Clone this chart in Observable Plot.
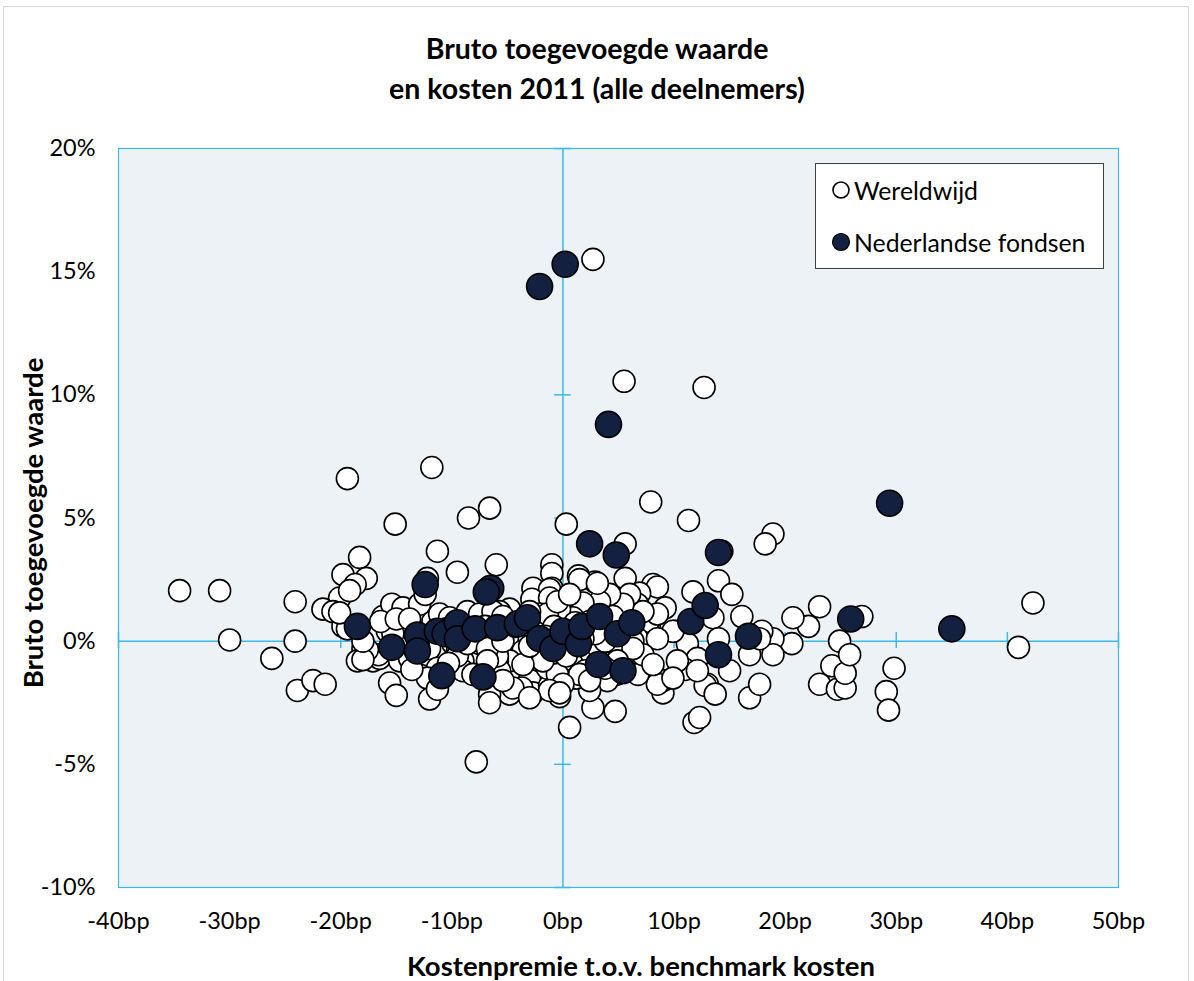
<!DOCTYPE html>
<html><head><meta charset="utf-8">
<script src="https://cdn.jsdelivr.net/npm/d3@7"></script>
<script src="https://cdn.jsdelivr.net/npm/@observablehq/plot@0.6"></script>
<style>
body{margin:0;background:#fff;font-family:Lato,"Open Sans",sans-serif;}
#wrap{position:relative;width:1194px;height:981px;overflow:hidden;}
#border{position:absolute;left:3px;top:6px;width:1186px;height:1000px;border:1px solid #d9d9d9;box-sizing:border-box;}
#title{position:absolute;left:0;top:0;width:1194px;text-align:center;font-weight:bold;font-size:28.5px;line-height:40px;padding-top:28px;box-sizing:border-box;color:#000}
#chart{position:absolute;left:0;top:120px;}
#ytitle{position:absolute;left:32px;top:523px;transform:translate(-50%,-50%) rotate(-90deg);white-space:nowrap;font-weight:bold;font-size:27.5px;}
#xtitle{position:absolute;left:641px;top:965px;transform:translate(-50%,-50%);white-space:nowrap;font-weight:bold;font-size:27.5px;}
#legend{position:absolute;left:815px;top:163px;width:289px;height:106px;background:#fff;border:1px solid #404040;box-sizing:border-box;font-size:24.8px;}
.li{position:absolute;left:15px;display:flex;align-items:center;height:30px;}
.li svg{margin-right:3px;}
</style>
</head><body>
<div id="wrap">
<div id="border"></div>
<div id="title">Bruto toegevoegde waarde<br>en kosten 2011 (alle deelnemers)</div>
<div id="chart"></div>
<div id="ytitle">Bruto toegevoegde waarde</div>
<div id="xtitle">Kostenpremie t.o.v. benchmark kosten</div>
<div id="legend">
  <div class="li" style="top:11px"><svg width="20" height="20"><circle cx="10" cy="10" r="8" fill="#fff" stroke="#000" stroke-width="1.6"/></svg>Wereldwijd</div>
  <div class="li" style="top:63px"><svg width="20" height="20"><circle cx="10" cy="10" r="8.5" fill="#14203F" stroke="#000" stroke-width="1.2"/></svg>Nederlandse fondsen</div>
</div>
</div>
<script>
const xTicks = [-40,-30,-20,-10,0,10,20,30,40,50];
const yTicks = [-10,-5,0,5,10,15,20];

// Wereldwijd: kostenpremie (bp), bruto toegevoegde waarde (%)
const wereldX = [
2.7,5.5,12.7,-19.4,-11.8,7.9,-6.6,-8.5,-15.1,0.3,11.3,18.9,18.2,5.6,-11.3,14.3,-18.3,-6.0,-1.0,-1.0,
-9.5,-19.8,-17.7,1.4,5.6,14.0,2.9,8.1,-12.2,-34.5,-30.9,-30.0,-24.1,-24.1,-26.2,-23.9,-22.5,-21.4,-7.8,0.6,
11.8,12.3,4.7,2.7,9.0,13.0,16.8,17.7,29.1,29.3,29.8,42.3,41.0,26.9,24.9,23.1,22.1,20.7,20.6,18.9,
18.9,17.9,16.1,15.2,11.7,23.1,24.2,24.7,25.4,25.4,25.8,
8.5,9.2,13.5,10.1,7.8,11.2,12.1,14.0,16.8,15.0,11.0,9.0,12.8,13.7,7.8,8.5,6.9,7.2,7.2,9.9,
10.3,7.2,9.9,6.7,7.7,6.7,6.0,6.75,5.3,6.3,5.3,4.8,4.1,12.1,8.5,8.5,7.2,8.1,7.2,6.0,
5.4,4.2,3.3,17.7,
-1.0,1.5,3.1,-2.7,-1.2,1.8,-2.8,-0.45,-4.8,-5.7,2.4,4.5,0.9,-5.85,-3.6,-4.8,-3.0,-2.1,0.8,2.0,
4.0,-0.3,2.4,-2.7,-3.7,-4.8,-1.2,1.2,-0.3,-1.2,-2.1,1.1,-5.0,-3.6,-2.3,-1.4,0.6,3.1,3.8,6.3,
4.9,1.5,-0.5,-1.8,-4.8,-5.9,-3.6,-2.7,-1.4,-0.5,0.6,5.4,2.4,0.0,-1.2,-4.5,-5.7,-6.6,-0.3,2.9,
1.8,-0.8,-1.6,0.3,3.8,-3.0,
-16.2,-15.8,-14.5,-13.8,-15.3,-18.0,-17.1,-18.5,-16.5,-14.7,-13.8,-12.2,-10.8,-12.0,-11.7,-11.1,-10.2,-8.6,-7.5,-6.3,
-5.4,-8.4,-7.7,-9.0,-7.5,-9.9,-9.5,-5.9,-9.0,-5.4,-11.3,-12.2,-18.7,-20.1,-15.4,-14.4,-12.9,-12.4,-21.6,-20.7,
-19.2,-19.8,-15.6,-15.0,-12.0,-11.3,-6.6,-13.6,-16.6,-17.6,-18.0,-19.4,-20.1,-16.4,-15.0,-9.5,-8.6,-6.8,-6.8,-8.1,
-5.4,-13.8,-10.5,-9.0,-7.0,-4.3,-3.0,-3.0,-18.0,-13.0,-10.3
];
const wereldY = [
15.5,10.55,10.3,6.6,7.05,5.65,5.4,5.0,4.75,4.75,4.9,4.35,3.95,3.95,3.65,3.65,3.4,3.1,3.1,2.75,
2.8,2.7,2.55,2.65,2.55,2.45,2.4,2.3,2.55,2.05,2.05,0.05,1.6,0.0,-0.7,-2.0,-1.6,-1.75,-4.9,-3.5,
-3.3,-3.1,-2.85,-2.7,-2.1,-1.75,-2.3,-1.75,-2.05,-2.8,-1.1,1.55,-0.25,1.0,0.0,1.4,0.6,0.95,-0.1,0.1,
-0.55,0.4,1.0,1.9,2.0,-1.75,-1.0,-1.95,-1.9,-1.3,-0.55,
2.2,1.35,0.95,0.4,0.5,-0.1,-0.7,0.1,-0.55,-1.2,-1.15,-1.6,-1.8,-2.15,-1.2,-1.75,1.95,1.0,0.4,0.4,
-0.8,-0.95,-1.5,1.5,0.8,0.1,-0.4,-1.35,0.5,0.0,-0.4,-1.35,-0.9,-1.2,1.1,0.1,-0.55,-0.95,1.2,1.9,
1.5,1.9,1.6,0.1,
2.15,2.5,2.35,2.15,2.1,1.55,1.7,1.2,1.3,1.2,0.8,1.0,0.95,-0.2,0.1,-1.35,-1.55,-0.8,-0.9,-1.2,
-1.6,-2.25,-2.0,-2.1,-1.9,-2.15,-1.8,-1.5,1.3,1.75,1.1,0.75,0.1,-0.4,-0.6,-1.1,-0.3,-0.2,0.0,-0.3,
-0.8,-1.35,-1.35,-0.8,-0.8,-0.8,-0.95,0.5,1.1,1.6,1.9,-1.2,-1.6,-1.75,-2.0,-1.9,-1.2,-2.15,-2.1,0.3,
0.1,0.6,0.2,-0.6,-1.1,-2.3,
1.0,0.4,0.5,0.0,0.3,-0.3,-0.8,-0.8,-0.7,-0.8,-0.7,-0.55,-0.3,-0.3,0.8,1.1,0.95,1.2,1.1,1.2,
1.0,-0.2,-0.55,-0.8,-0.1,-0.1,-0.4,-0.6,-1.2,-1.6,-1.1,-1.5,2.3,1.75,1.5,1.35,1.5,1.9,1.3,1.2,
2.05,0.6,-1.7,-2.2,-2.35,-1.95,-2.5,-1.15,-0.55,-0.35,-0.75,0.5,1.15,0.8,0.9,-0.6,-0.1,-0.3,-0.8,-1.35,
0.0,0.9,0.5,0.3,0.6,0.6,1.2,-0.2,0.0,-0.2,-0.9
];

// Nederlandse fondsen
const nlX = [-2.1,0.2,4.1,29.4,2.4,4.8,14.0,-12.4,-6.5,-6.9,-18.5,-15.4,-13.1,-13.1,-11.3,-10.6,-9.5,-9.5,-7.9,-10.9,
-7.2,-5.9,-4.1,-3.2,-2.1,-0.9,0.0,1.4,1.7,3.3,3.2,4.9,5.4,6.2,11.5,12.8,14.0,16.7,25.9,35.0];
const nlY = [14.4,15.3,8.8,5.6,3.95,3.5,3.6,2.3,2.15,2.0,0.6,-0.25,0.25,-0.4,0.4,0.3,0.75,0.1,0.5,-1.4,
-1.45,0.55,0.7,0.95,0.1,-0.3,0.4,-0.1,0.6,1.0,-0.95,0.3,-1.2,0.75,0.8,1.45,-0.55,0.2,0.9,0.5];

const wereld = wereldX.map((x,i)=>({x, y: wereldY[i]}));
const nl = nlX.map((x,i)=>({x, y: nlY[i]}));
const cyan = "#3DB9E3";

const chart = Plot.plot({
  width: 1194, height: 861,
  marginTop: 28, marginBottom: 94, marginLeft: 118, marginRight: 76,
  style: {fontFamily: "Lato, 'Open Sans', sans-serif", fontSize: "23.5px", color: "#000", background: "transparent", overflow: "visible"},
  x: {domain: [-40, 50], label: null},
  y: {domain: [-10, 20], label: null},
  marks: [
    Plot.frame({fill: "#EDF2F7", stroke: cyan, strokeWidth: 1.2}),
    Plot.ruleX([0], {stroke: cyan, strokeWidth: 1.5}),
    Plot.ruleY([0], {stroke: cyan, strokeWidth: 1.5}),
    Plot.ruleX(xTicks, {x: d => d, y1: -0.3, y2: 0.35, stroke: cyan, strokeWidth: 1.5}),
    Plot.ruleY(yTicks, {y: d => d, x1: -0.75, x2: 0.75, stroke: cyan, strokeWidth: 1.5}),
    Plot.dot(wereld, {x: "x", y: "y", r: 11, fill: "#fff", stroke: "#000", strokeWidth: 1.6}),
    Plot.dot(nl, {x: "x", y: "y", r: 13, fill: "#14203F", stroke: "#000", strokeWidth: 1.6}),
    Plot.axisX({ticks: xTicks, tickFormat: d => d + "bp", tickSize: 0, tickPadding: 25, label: null}),
    Plot.axisY({ticks: yTicks, tickFormat: d => d + "%", tickSize: 0, tickPadding: 23, label: null})
  ]
});
document.getElementById("chart").appendChild(chart);
</script>
</body></html>
